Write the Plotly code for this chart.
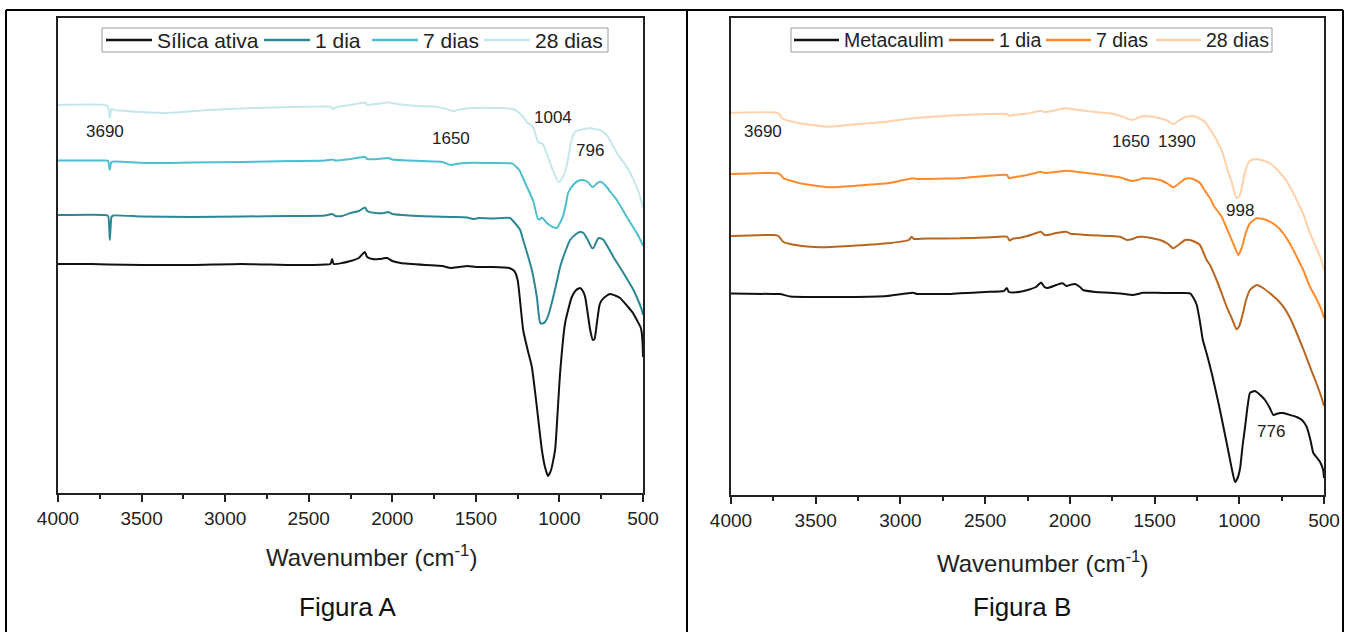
import plotly.graph_objects as go

# FTIR spectra, transmittance in arbitrary units (curves stacked with offsets)

# ---- Figura A: silica ativa ----
wn_sa = [4000, 3800, 3700, 3500, 3200, 2900, 2600, 2400, 2370, 2360, 2350, 2300, 2250, 2200, 2165, 2150, 2120, 2080,
         2040, 2030, 2000, 1950, 1800, 1700, 1650, 1600, 1550, 1500, 1400, 1300, 1270, 1250, 1217, 1190, 1165, 1135,
         1105, 1085, 1068, 1050, 1026, 1010, 996, 966, 926, 900, 876, 860, 846, 816, 800, 790, 776, 760, 746, 720,
         697, 660, 637, 589, 560, 537, 515, 508, 502, 500]
t_sa = [229, 229, 228.5, 228, 228, 229, 228, 228.5, 229, 234, 229, 230, 232, 235, 241, 236, 234, 234,
        235, 235, 232, 230, 228, 227, 225, 226, 227, 226, 226, 225, 222, 213, 163, 143, 126, 86,
        43, 25, 17, 23, 43, 83, 120, 170, 196, 203, 205, 202, 196, 163, 153, 154, 170, 188, 193, 197,
        199, 197, 195, 186, 180, 173, 166, 161, 148, 136]

wn_sa1 = [4000, 3720, 3700, 3690, 3680, 3670, 3500, 3200, 2900, 2600, 2400, 2360, 2340, 2300, 2250, 2200, 2163, 2150,
          2100, 2050, 2025, 2000, 1900, 1756, 1650, 1552, 1517, 1480, 1400, 1295, 1277, 1235, 1217, 1190, 1165, 1135,
          1115, 1100, 1086, 1066, 1046, 1020, 996, 966, 936, 900, 876, 856, 830, 806, 796, 780, 766, 750, 736, 700,
          677, 617, 557, 530, 507, 500]
t_sa1 = [278, 278, 277, 253, 276, 277.5, 276.5, 276, 276.5, 277, 277.5, 279, 277, 277, 280, 282, 285.5, 282,
         280, 280, 281, 279, 277.5, 276.5, 276, 275.5, 274, 275, 274.5, 275, 272, 263, 253, 238, 223, 196,
         170, 169.5, 171, 178, 190, 208, 226, 241, 253, 259, 261, 260, 253, 245, 245, 251, 255, 254.5, 253, 243,
         236, 220, 203, 193, 183, 178]

wn_sa7 = [4000, 3720, 3700, 3690, 3680, 3600, 3449, 3200, 2900, 2600, 2400, 2360, 2340, 2250, 2163, 2150, 2080, 2025,
          2000, 1900, 1756, 1700, 1650, 1600, 1517, 1400, 1295, 1277, 1240, 1205, 1180, 1157, 1128, 1115, 1105, 1090,
          1075, 1040, 1016, 1000, 978, 960, 948, 918, 890, 858, 830, 810, 798, 780, 757, 740, 717, 690, 657, 597,
          537, 507, 500]
t_sa7 = [332.5, 332.5, 332, 323, 331, 331, 330, 330.5, 331, 332, 332.5, 333.5, 332.5, 334, 336, 334, 334, 335,
         333.5, 332.5, 331.5, 331, 328, 329.5, 330.3, 330, 329.7, 329, 323, 310, 301, 292, 274, 274, 275.5, 273,
         270, 266, 265, 269, 277, 290, 300, 308, 312, 313, 311, 307, 306, 309, 311.5, 310, 306, 300, 293, 276,
         260, 250, 247]

wn_sa28 = [4000, 3720, 3700, 3690, 3680, 3660, 3500, 3348, 3100, 2851, 2600, 2400, 2372, 2355, 2330, 2250, 2163, 2150,
           2100, 2025, 1953, 1850, 1756, 1700, 1636, 1600, 1517, 1355, 1277, 1240, 1217, 1195, 1157, 1135, 1128, 1110,
           1100, 1080, 1056, 1030, 1006, 990, 966, 950, 936, 918, 900, 876, 850, 816, 790, 757, 730, 709, 680, 657,
           597, 537, 507, 500]
t_sa28 = [388, 388, 386, 375, 384, 383, 381, 380, 383, 385, 386, 386.5, 386.5, 384, 386, 388, 390.5, 388,
          389, 390.5, 388.5, 387, 386.5, 385, 382, 383.5, 385, 385, 384, 380, 376, 371, 366, 354, 351, 350,
          349, 341, 330, 319, 311, 313, 321, 333, 346, 358, 362, 363, 364, 365, 364, 363, 360, 356, 347, 340,
          326, 306, 290, 285]

# ---- Figura B: metacaulim ----
wn_mk = [4000, 3750, 3710, 3650, 3500, 3300, 3079, 2926, 2900, 2843, 2700, 2648, 2500, 2390, 2372, 2360, 2330, 2294,
         2250, 2200, 2170, 2150, 2132, 2080, 2043, 2020, 2000, 1970, 1940, 1922, 1850, 1763, 1700, 1627, 1600, 1568,
         1450, 1350, 1291, 1270, 1251, 1232, 1215, 1190, 1163, 1140, 1114, 1090, 1066, 1045, 1025, 1010, 995, 980,
         966, 950, 937, 910, 898, 870, 848, 820, 799, 780, 760, 740, 700, 661, 630, 602, 580, 563, 540, 523, 505, 500]
t_mk = [201.5, 201, 201, 198.5, 198, 198, 199, 202.3, 201, 201, 201, 201.7, 203, 204, 207, 203, 202.5, 203.3,
        205, 208, 212.5, 208, 207, 210, 211.7, 209, 210, 211, 208, 205, 203, 202.3, 201.5, 200, 201, 202.3,
        202, 202, 201.7, 197, 190, 173, 155, 140, 122, 105, 85, 65, 45, 27, 13, 17, 27, 50,
        68, 90, 102, 104, 103, 99, 95, 87, 80, 81, 82, 82, 80, 78, 75, 68, 55, 42, 37, 33, 25, 17]

wn_mk1 = [4000, 3747, 3720, 3693, 3650, 3550, 3475, 3300, 3079, 2950, 2934, 2920, 2900, 2843, 2648, 2500, 2371, 2355,
          2340, 2294, 2250, 2170, 2150, 2132, 2080, 2022, 1990, 1970, 1900, 1763, 1700, 1663, 1630, 1600, 1568, 1520,
          1468, 1420, 1390, 1360, 1320, 1291, 1260, 1232, 1193, 1173, 1134, 1100, 1075, 1045, 1016, 1000, 978, 960,
          937, 898, 860, 819, 780, 740, 700, 661, 620, 583, 550, 523, 505, 500]
t_mk1 = [259, 260, 259, 253.3, 251, 248.5, 247.7, 249, 251.7, 255, 258.3, 256, 256, 256.5, 256.7, 257.5, 258.3, 254.3,
         256, 257.3, 259, 263.3, 260, 260, 262, 263.3, 261, 261, 260, 259, 258, 255, 256, 258, 258.3, 257,
         255, 251, 246.7, 250, 255, 255, 253, 250, 235, 230, 215, 200, 188.3, 177, 165.7, 169, 182, 195,
         205, 210, 207, 201.7, 196, 188.3, 177, 162, 145, 128.3, 114, 101.7, 92, 89]

wn_mk7 = [4000, 3724, 3700, 3693, 3600, 3416, 3250, 3079, 2926, 2900, 2700, 2648, 2371, 2360, 2340, 2250, 2170, 2150,
          2080, 2022, 1950, 1850, 1763, 1700, 1634, 1600, 1568, 1520, 1468, 1420, 1390, 1360, 1320, 1291, 1260, 1232,
          1193, 1173, 1150, 1104, 1070, 1036, 1006, 990, 978, 960, 937, 898, 860, 819, 780, 740, 700, 661, 620, 583,
          550, 523, 505, 500]
t_mk7 = [321, 321.7, 319, 317, 312, 307.7, 309.5, 311.7, 316.7, 316, 316.5, 316.7, 320, 317, 317.5, 320, 323.3, 322,
         323, 324.3, 323, 321, 319, 317.5, 314, 315, 316.7, 316.5, 315, 311, 307.7, 311, 316, 316.7, 315, 312,
         301.7, 297, 289, 278.3, 265, 251.7, 240, 245, 251.7, 263, 271.7, 276.7, 276, 273.3, 269, 261.7, 251, 238.3, 224, 208.3,
         198, 188.3, 180, 177]

wn_mk28 = [4000, 3724, 3710, 3700, 3600, 3416, 3250, 3079, 2926, 2700, 2648, 2371, 2355, 2340, 2250, 2170, 2150, 2080,
           2022, 1950, 1850, 1763, 1700, 1634, 1600, 1568, 1520, 1468, 1420, 1390, 1360, 1320, 1273, 1240, 1203, 1170,
           1134, 1100, 1075, 1045, 1016, 1000, 985, 970, 948, 930, 898, 860, 819, 780, 740, 700, 661, 620, 583, 550,
           523, 505, 500]
t_mk28 = [382.3, 382.3, 380, 376.7, 372, 368.3, 371, 373.3, 376.7, 379.5, 380, 381, 379, 380, 381.5, 384.3, 383, 385,
          386.7, 385, 383, 381.7, 379, 375, 377, 379, 378.5, 376.7, 374, 370.7, 374, 378, 379, 377, 373.3, 365,
          355, 343, 328.3, 313, 296.7, 299, 307, 320, 331.7, 335, 335.7, 334.5, 331.7, 326, 318.3, 308, 295, 280, 262, 249,
          238.3, 228.3, 225]

names_a = ["Sílica ativa", "1 dia", "7 dias", "28 dias"]
names_b = ["Metacaulim", "1 dia", "7 dias", "28 dias"]
colors_a = ["#111111", "#2b8793", "#4ebfcf", "#c4e7ee"]
colors_b = ["#111111", "#b9651f", "#ff8b2b", "#ffd1ab"]

xtick_vals = [4000, 3500, 3000, 2500, 2000, 1500, 1000, 500]
xtick_text = ["4000", "3500", "3000", "2500", "2000", "1500", "1000", "500"]

# band labels: (text, label x in cm-1, label y in a.u.)
peaks_a = [("3690", 3720, 362), ("1650", 1650, 355), ("1004", 1040, 376), ("796", 816, 343)]
peaks_b = [("3690", 3810, 364), ("1650", 1640, 354), ("1390", 1370, 354), ("998", 998, 285), ("776", 815, 64)]

FONT = "Liberation Sans, Arial, sans-serif"
INK = "#222"
W, H = 1345, 632


def px_x(p):
    return p / W


def px_y(p):
    return 1 - p / H


fig = go.Figure()

series_a = [(wn_sa, t_sa), (wn_sa1, t_sa1), (wn_sa7, t_sa7), (wn_sa28, t_sa28)]
series_b = [(wn_mk, t_mk), (wn_mk1, t_mk1), (wn_mk7, t_mk7), (wn_mk28, t_mk28)]

line_style = dict(width=2, shape="spline", smoothing=0.5)
for (x, y), name, col in zip(series_a, names_a, colors_a):
    fig.add_trace(go.Scatter(x=x, y=y, name=name, mode="lines",
                             line=dict(color=col, **line_style), xaxis="x", yaxis="y"))
for (x, y), name, col in zip(series_b, names_b, colors_b):
    fig.add_trace(go.Scatter(x=x, y=y, name=name, mode="lines",
                             line=dict(color=col, **line_style), xaxis="x2", yaxis="y2"))

xax = dict(range=[4000, 500], tickvals=xtick_vals, ticktext=xtick_text, ticks="outside", ticklen=7,
           tickwidth=1.5, tickcolor=INK, showline=True, linecolor=INK, linewidth=1.5, mirror=True,
           showgrid=False, zeroline=False, automargin=False, tickfont=dict(family=FONT, size=19, color=INK),
           minor=dict(tickvals=[3750, 3250, 2750, 2250, 1750, 1250, 750], ticks="outside", ticklen=4,
                      tickwidth=1.5, tickcolor=INK))
yax = dict(showticklabels=False, ticks="", showline=True, linecolor=INK, linewidth=1.5, mirror=True,
           showgrid=False, zeroline=False, automargin=False)

fig.update_layout(
    template="none",
    width=W, height=H, margin=dict(l=0, r=0, t=0, b=0, pad=0, autoexpand=False),
    paper_bgcolor="white", plot_bgcolor="white", showlegend=False,
    xaxis=dict(domain=[px_x(58), px_x(643)], anchor="y", **xax),
    yaxis=dict(domain=[px_y(493), px_y(18)], anchor="x", range=[0, 475], **yax),
    xaxis2=dict(domain=[px_x(731), px_x(1324)], anchor="y2", **xax),
    yaxis2=dict(domain=[px_y(495), px_y(18)], anchor="x2", range=[0, 477], **yax),
)

annotations = []
shapes = []

for txt, xv, yv in peaks_a:
    annotations.append(dict(x=xv, y=yv, xref="x", yref="y", text=txt, showarrow=False,
                            font=dict(family=FONT, size=17, color=INK)))
for txt, xv, yv in peaks_b:
    annotations.append(dict(x=xv, y=yv, xref="x2", yref="y2", text=txt, showarrow=False,
                            font=dict(family=FONT, size=17, color=INK)))

# axis titles and panel captions
for tx, ty, fx, label in [(371, 556, 347, "Figura A"), (1042, 562, 1022, "Figura B")]:
    annotations.append(dict(x=px_x(tx), y=px_y(ty), xref="paper", yref="paper", showarrow=False,
                            text="Wavenumber (cm<sup>-1</sup>)", xanchor="center", yanchor="middle",
                            font=dict(family=FONT, size=24, color=INK)))
    annotations.append(dict(x=px_x(fx), y=px_y(607), xref="paper", yref="paper", showarrow=False,
                            text=label, xanchor="center", yanchor="middle",
                            font=dict(family=FONT, size=26, color="#111")))

# horizontal legends: a boxed row of line samples followed by the series names
legend_rows = [
    (102, 608, [106, 264, 372, 484], names_a, colors_a, 21, 46),
    (791, 1272, [794, 949, 1046, 1156], names_b, colors_b, 19.5, 45),
]
LEG_TOP, LEG_BOT = 28, 52
for bx0, bx1, starts, names, cols, fsize, seg in legend_rows:
    shapes.append(dict(type="rect", xref="paper", yref="paper", x0=px_x(bx0), x1=px_x(bx1),
                       y0=px_y(LEG_BOT), y1=px_y(LEG_TOP), line=dict(color="#9a9a9a", width=1),
                       fillcolor="white", layer="above"))
    ymid = (LEG_TOP + LEG_BOT) / 2
    for sx, nm, col in zip(starts, names, cols):
        shapes.append(dict(type="line", xref="paper", yref="paper", x0=px_x(sx), x1=px_x(sx + seg),
                           y0=px_y(ymid), y1=px_y(ymid), line=dict(color=col, width=2.5), layer="above"))
        annotations.append(dict(x=px_x(sx + seg + 3), y=px_y(ymid), xref="paper", yref="paper",
                                showarrow=False, text=nm, xanchor="left", yanchor="middle",
                                font=dict(family=FONT, size=fsize, color=INK)))

# table frame around the two panels
frame = dict(type="line", xref="paper", yref="paper", line=dict(color="black", width=2))
shapes += [
    dict(x0=px_x(6), x1=px_x(1343), y0=px_y(10), y1=px_y(10), **frame),
    dict(x0=px_x(6), x1=px_x(6), y0=px_y(10), y1=0, **frame),
    dict(x0=px_x(687), x1=px_x(687), y0=px_y(10), y1=0, **frame),
    dict(x0=px_x(1343), x1=px_x(1343), y0=px_y(10), y1=0, **frame),
]

fig.update_layout(annotations=annotations, shapes=shapes)

fig.write_html("out.html")
